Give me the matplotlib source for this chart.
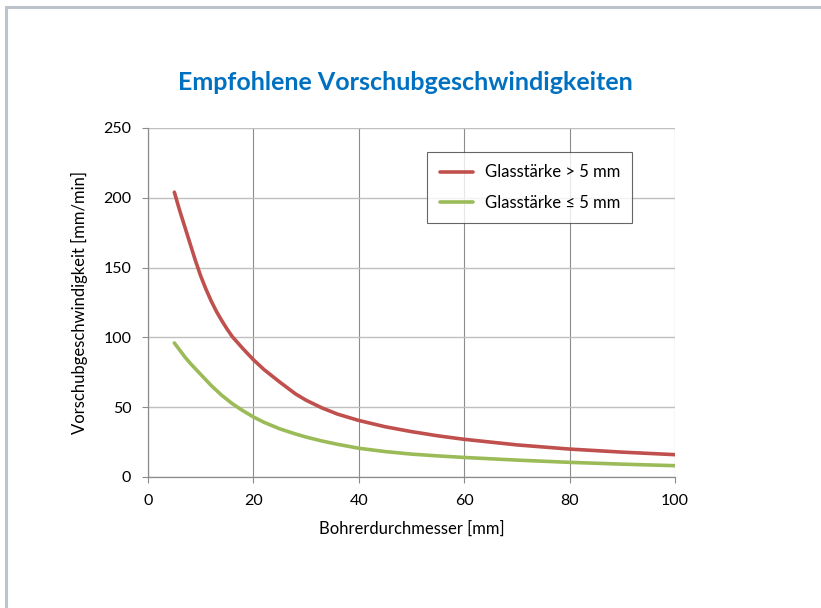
import matplotlib
matplotlib.use("Agg")
import matplotlib.pyplot as plt
from matplotlib.lines import Line2D

diam_red = [5, 6, 7, 8, 9, 10, 11, 12, 13, 14, 15, 16, 18, 20, 22, 25, 28, 30, 33, 36, 40, 45, 50, 55, 60, 70, 80, 90, 100]
feed_red = [204, 191, 179, 167, 155, 144, 134.5, 126, 118.5, 112, 106, 100.5, 92, 84, 77, 68, 59.5, 55, 49.5, 45, 40.5, 36, 32.5, 29.5, 27, 23, 20, 17.8, 16]
diam_green = [5, 6, 7, 8, 9, 10, 11, 12, 13, 14, 15, 16, 18, 20, 22, 25, 28, 30, 33, 36, 40, 45, 50, 55, 60, 70, 80, 90, 100]
feed_green = [96, 91, 86, 81.5, 77.5, 73.5, 69.5, 65.5, 62, 58.5, 55.5, 52.5, 47.5, 43, 39.2, 34.5, 30.8, 28.6, 25.8, 23.4, 20.6, 18.2, 16.4, 15.1, 14, 12.1, 10.5, 9.2, 8.1]

title = "Empfohlene Vorschubgeschwindigkeiten"
xlabel = "Bohrerdurchmesser [mm]"
ylabel = "Vorschubgeschwindigkeit [mm/min]"
labels = ["Glasstärke > 5 mm", "Glasstärke \u2264 5 mm"]

plt.rcParams['font.family'] = ['Lato', 'DejaVu Sans']

fig = plt.figure(figsize=(8.21, 6.08), dpi=100)
fig.add_artist(Line2D([6/821, 1], [1-7/608, 1-7/608], color='#BCC3CA', lw=2.2, transform=fig.transFigure))
fig.add_artist(Line2D([6/821, 6/821], [0, 1-7/608], color='#BCC3CA', lw=2.2, transform=fig.transFigure))

ax = fig.add_axes([148/821, 1-477/608, (675-148)/821, (477-128)/608])
ax.plot(diam_red, feed_red, color='#C0504D', lw=2.6, solid_capstyle='round', solid_joinstyle='round', label=labels[0], zorder=3)
ax.plot(diam_green, feed_green, color='#9BBB59', lw=2.6, solid_capstyle='round', solid_joinstyle='round', label=labels[1], zorder=3)

ax.set_xlim(0, 100)
ax.set_ylim(0, 250)
ax.set_xticks(range(0, 101, 20))
ax.set_yticks(range(0, 251, 50))
ax.grid(axis='x', color='#8C8C8C', lw=0.8)
ax.grid(axis='y', color='#BFBFBF', lw=1.0)
ax.set_axisbelow(True)
for s in ['top', 'right']:
    ax.spines[s].set_visible(False)
for s in ['left', 'bottom']:
    ax.spines[s].set_color('#8C8C8C')
    ax.spines[s].set_linewidth(0.9)
ax.tick_params(axis='both', direction='out', length=4, color='#8C8C8C', labelsize=11.5, labelcolor='black')
ax.tick_params(axis='x', pad=8)
ax.tick_params(axis='y', pad=8)
ax.set_xlabel(xlabel, fontsize=12, labelpad=9)
ax.set_ylabel(ylabel, fontsize=12, labelpad=11)

fig.text(405/821, 1-82/608, title, ha='center', va='center', fontsize=18, fontweight='bold', color='#0070C0')

leg = ax.legend(loc='upper left', bbox_to_anchor=((427-148)/527, (477-152)/349), frameon=True, fancybox=False,
                edgecolor='#404040', fontsize=12, handlelength=2.0, borderpad=0.75, labelspacing=0.85,
                handletextpad=0.7, borderaxespad=0)
leg.get_frame().set_linewidth(0.8)

fig.savefig("out.png", dpi=100)
